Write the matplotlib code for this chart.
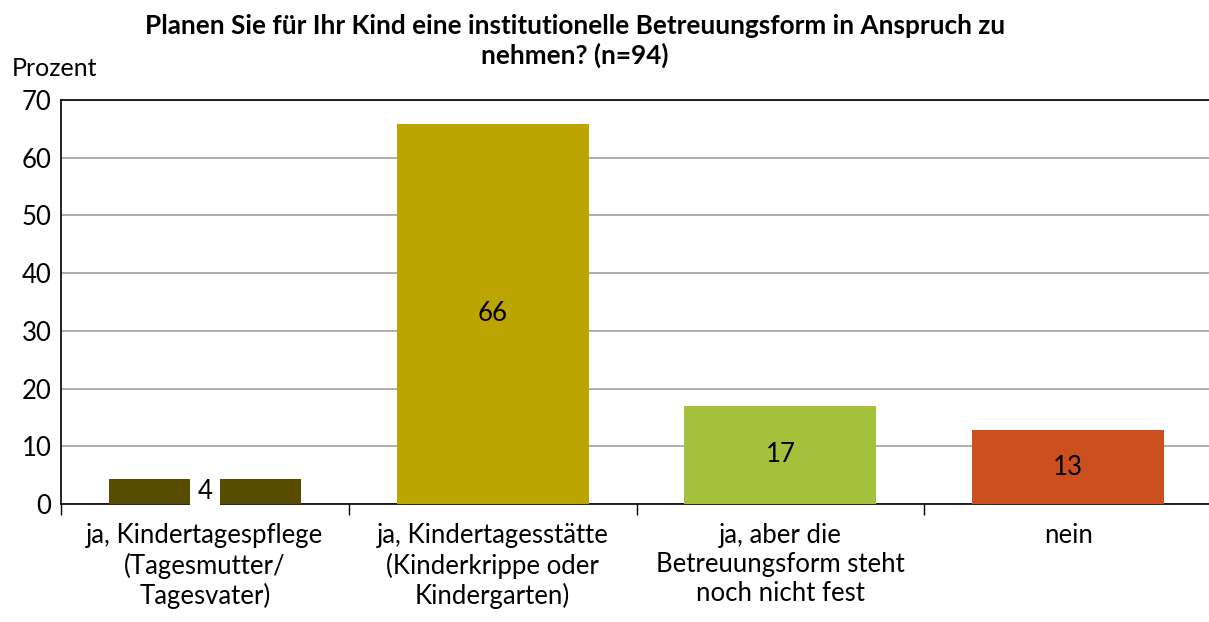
import matplotlib.pyplot as plt
import numpy as np

# data
categories = ['ja, Kindertagespflege\n(Tagesmutter/\nTagesvater)',
              'ja, Kindertagesstätte\n(Kinderkrippe oder\nKindergarten)',
              'ja, aber die\nBetreuungsform steht\nnoch nicht fest',
              'nein']
values = [4.3, 65.9, 17.0, 12.8]
labels = ['4', '66', '17', '13']
colors = ['#574c00', '#bca500', '#a3c13a', '#cb501e']

plt.rcParams['font.family'] = ['Lato', 'DejaVu Sans']

fig = plt.figure(figsize=(12.09, 6.22), dpi=100)
ax = fig.add_axes([61/1209, 1-504/622, (1212-61)/1209, 404/622])

x = np.arange(len(categories))
bars = ax.bar(x, values, width=0.667, color=colors, zorder=3)

for i, (b, lab) in enumerate(zip(bars, labels)):
    h = b.get_height()
    if i == 0:
        ax.text(b.get_x() + b.get_width()/2, h/2, lab, ha='center', va='center',
                fontsize=18.5, zorder=4,
                bbox=dict(facecolor='white', edgecolor='none', pad=5.5))
    else:
        ax.text(b.get_x() + b.get_width()/2, h/2, lab, ha='center', va='center',
                fontsize=18.5, zorder=4)

ax.set_xlim(-0.5, len(categories) - 0.5)
ax.set_ylim(0, 70)
ax.set_yticks(range(0, 71, 10))
ax.yaxis.grid(True, color='#a0a0a0', linewidth=1.2, zorder=0)
ax.tick_params(axis='y', length=0, labelsize=18.5, pad=7)

# category ticks at boundaries, labels centered
ax.set_xticks(np.arange(-0.5, len(categories), 1.0))
ax.set_xticklabels([])
ax.set_xticks(x, minor=True)
ax.set_xticklabels(categories, minor=True, fontsize=18.5, linespacing=1.2)
ax.tick_params(axis='x', which='major', length=8, width=1, direction='out')
ax.tick_params(axis='x', which='minor', length=0, pad=14)

for s in ['left', 'bottom', 'top']:
    ax.spines[s].set_color('black')
    ax.spines[s].set_linewidth(1.2)
ax.spines['right'].set_visible(False)

fig.text(12/1209, 1-68/622, 'Prozent', fontsize=18, va='center', ha='left')
fig.text(575/1209, 1-41/622,
         'Planen Sie für Ihr Kind eine institutionelle Betreuungsform in Anspruch zu\nnehmen? (n=94)',
         fontsize=18.8, fontweight='bold', ha='center', va='center', linespacing=1.2)

fig.savefig('out.png', dpi=100)
